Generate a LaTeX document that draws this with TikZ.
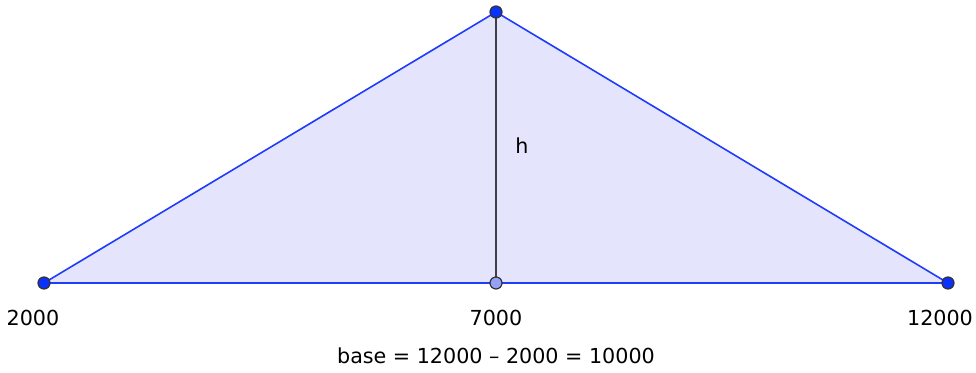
\documentclass[tikz,border=0pt]{standalone}
\usepackage{fontspec}
\setmainfont{DejaVu Sans}
\usepackage{xcolor}
\usepackage{tikz}
\usetikzlibrary{positioning}

\definecolor{edgeblue}{RGB}{30,60,250}
\definecolor{fillblue}{RGB}{228,228,252}
\definecolor{ptblue}{RGB}{10,50,250}
\definecolor{ptlight}{RGB}{150,160,245}

\begin{document}
\begin{tikzpicture}[
  x=0.75pt, y=-0.75pt,
  pt/.style={circle, draw=black!80, fill=ptblue, line width=0.9pt, inner sep=0pt, minimum size=9pt},
  lbl/.style={font=\fontsize{15.5}{18}\selectfont, text=black, inner sep=0pt},
  side/.style={draw=edgeblue, line width=1.2pt}
]
\useasboundingbox (0,0) rectangle (976,372);

% Vertices
\coordinate (left) at (44,283);
\coordinate (right) at (948,283);
\coordinate (apex) at (496,12);
\coordinate (foot) at (496,283);

% Triangle and height
\fill [fillblue] (left) -- (right) -- (apex) -- cycle;
\draw [side] (left) -- (right) -- (apex) -- cycle;
\draw [black!75, line width=1.5pt] (apex) -- (foot);
\node (hlabel) [lbl] at (522,146) {h};

% Points
\node (leftpt) [pt] at (left) {};
\node (rightpt) [pt] at (right) {};
\node (apexpt) [pt] at (apex) {};
\node (footpt) [pt, fill=ptlight] at (foot) {};

% Labels
\node (leftlabel) [lbl] at (33,318) {2000};
\node (footlabel) [lbl] at (496,318) {7000};
\node (rightlabel) [lbl] at (940,318) {12000};
\node (baselabel) [lbl] at (496,356) {base = 12000 – 2000 = 10000};

\end{tikzpicture}
\end{document}
